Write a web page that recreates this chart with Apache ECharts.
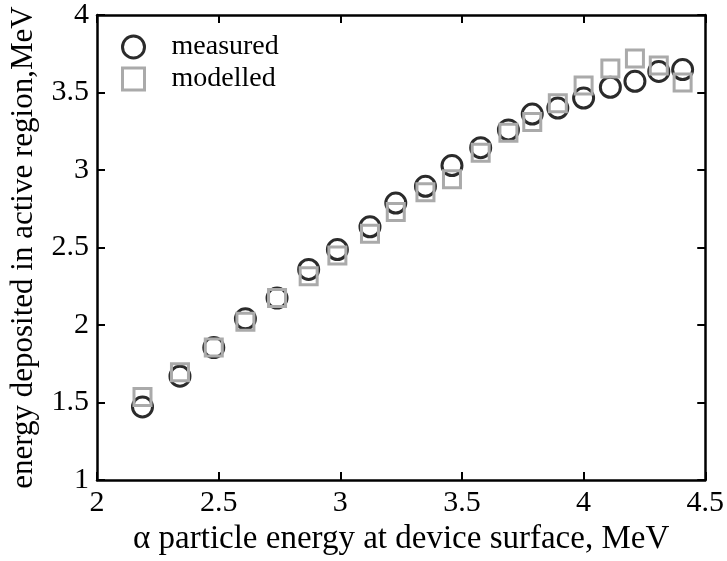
<!DOCTYPE html>
<html>
<head>
<meta charset="utf-8">
<script src="https://cdn.jsdelivr.net/npm/echarts@6/dist/echarts.min.js"></script>
<style>
html,body{margin:0;padding:0;background:#fff;}
#chart{width:727px;height:561px;}
</style>
</head>
<body>
<div id="chart"></div>
<script>
const xTitle = 'α particle energy at device surface, MeV';
const yTitle = 'energy deposited in active region,MeV';
const seriesNames = ['measured', 'modelled'];
const alphaEnergy = [2.187, 2.341, 2.480, 2.610, 2.740, 2.870, 2.988, 3.122, 3.228, 3.350, 3.459, 3.577, 3.691, 3.789, 3.894, 4.000, 4.110, 4.211, 4.309, 4.407];
const measured = [1.472, 1.670, 1.855, 2.040, 2.174, 2.359, 2.487, 2.634, 2.787, 2.895, 3.029, 3.144, 3.259, 3.361, 3.400, 3.464, 3.534, 3.572, 3.636, 3.648];
const modelled = [1.536, 1.696, 1.855, 2.021, 2.174, 2.315, 2.449, 2.589, 2.729, 2.857, 2.940, 3.112, 3.240, 3.310, 3.431, 3.546, 3.655, 3.719, 3.674, 3.565];

const FONT = "'Liberation Serif', 'Times New Roman', serif";
const circleColor = '#2b2b2b';
const squareColor = '#aaaaaa';

const chart = echarts.init(document.getElementById('chart'), null, {renderer: 'canvas'});

function pairs(xs, ys) { return xs.map((x, i) => [x, ys[i]]); }

const axisLine = {show: true, onZero: false, lineStyle: {color: '#000', width: 2.5}};
const axisTick = {show: true, inside: true, length: 8, lineStyle: {color: '#000', width: 2}};

chart.setOption({
  animation: false,
  backgroundColor: '#fff',
  grid: {left: 91, right: 21, top: 14, bottom: 77},
  legend: {
    orient: 'vertical',
    left: 116, top: 28,
    itemWidth: 22, itemHeight: 22, itemGap: 4,
    textStyle: {fontFamily: FONT, fontSize: 28, color: '#000', padding: [0, 0, 0, 22]},
    data: [
      {name: seriesNames[0], icon: 'circle', itemStyle: {color: 'transparent', borderColor: circleColor, borderWidth: 3}},
      {name: seriesNames[1], icon: 'rect', itemStyle: {color: 'transparent', borderColor: squareColor, borderWidth: 3}}
    ]
  },
  xAxis: [{
    type: 'value', min: 2, max: 4.5, interval: 0.5, position: 'bottom',
    name: xTitle, nameLocation: 'middle', nameGap: 35,
    nameTextStyle: {fontFamily: FONT, fontSize: 33, color: '#000'},
    axisLine: axisLine, axisTick: axisTick, splitLine: {show: false},
    axisLabel: {fontFamily: FONT, fontSize: 30, color: '#000', margin: 8}
  }, {
    type: 'value', min: 2, max: 4.5, interval: 0.5, position: 'top',
    axisLine: axisLine, axisTick: axisTick, splitLine: {show: false},
    axisLabel: {show: false}
  }],
  yAxis: [{
    type: 'value', min: 1, max: 4, interval: 0.5, position: 'left',
    name: yTitle, nameLocation: 'middle', nameGap: 58,
    nameTextStyle: {fontFamily: FONT, fontSize: 31, color: '#000'},
    axisLine: axisLine, axisTick: axisTick, splitLine: {show: false},
    axisLabel: {fontFamily: FONT, fontSize: 30, color: '#000', margin: 8}
  }, {
    type: 'value', min: 1, max: 4, interval: 0.5, position: 'right',
    axisLine: axisLine, axisTick: axisTick, splitLine: {show: false},
    axisLabel: {show: false}
  }],
  series: [{
    name: seriesNames[0], type: 'scatter', xAxisIndex: 0, yAxisIndex: 0,
    symbol: 'circle', symbolSize: 20,
    itemStyle: {color: 'transparent', borderColor: circleColor, borderWidth: 3, opacity: 1},
    data: pairs(alphaEnergy, measured), z: 2
  }, {
    name: seriesNames[1], type: 'scatter', xAxisIndex: 0, yAxisIndex: 0,
    symbol: 'rect', symbolSize: 17,
    itemStyle: {color: 'transparent', borderColor: squareColor, borderWidth: 3, opacity: 1},
    data: pairs(alphaEnergy, modelled), z: 3
  }]
});
</script>
</body>
</html>
